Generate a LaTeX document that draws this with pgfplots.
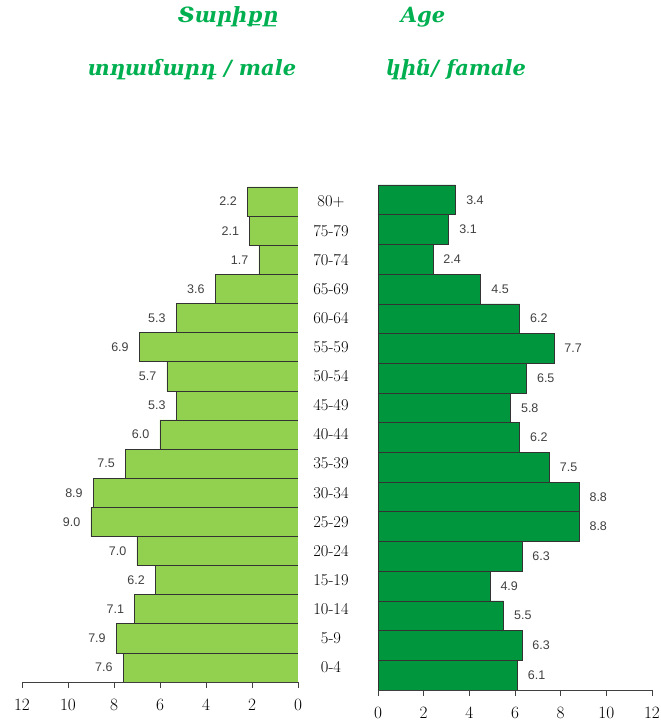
\documentclass[border=0pt]{standalone}
\usepackage{fontspec}
\usepackage{pgfplots}
\pgfplotsset{compat=1.18}
\newfontfamily\armfont{DejaVu Serif}
\newfontfamily\valfont{Liberation Sans}
\definecolor{lgreen}{RGB}{146,208,80}
\definecolor{dgreen}{RGB}{0,150,62}
\definecolor{tgreen}{RGB}{0,176,80}
\definecolor{vgray}{RGB}{64,64,64}
\pgfplotstableread{
y male female
0 7.6 6.1
1 7.9 6.3
2 7.1 5.5
3 6.2 4.9
4 7.0 6.3
5 9.0 8.8
6 8.9 8.8
7 7.5 7.5
8 6.0 6.2
9 5.3 5.8
10 5.7 6.5
11 6.9 7.7
12 5.3 6.2
13 3.6 4.5
14 1.7 2.4
15 2.1 3.1
16 2.2 3.4
}\pop
\pgfplotsset{
  pyr/.style={
    xbar, scale only axis, bar width=1,
    xmin=0, xmax=12, ymin=-0.5, ymax=16.5,
    xtick={0,2,...,12}, tick align=outside, major tick length=6pt,
    axis x line*=bottom,
    x axis line style={-, line width=0.8pt, black!75},
    xtick style={line width=0.8pt, black!75},
    xticklabel style={font=\fontsize{18}{18}\selectfont, yshift=-8pt},
    point meta=x,
    nodes near coords={\pgfmathprintnumber[fixed,fixed zerofill,precision=1,assume math mode=true]{\pgfplotspointmeta}},
    every node near coord/.append style={font=\valfont\fontsize{12.5}{12.5}\selectfont, text=vgray},
  }
}
\begin{document}
\begin{tikzpicture}
\useasboundingbox (0pt,0pt) rectangle (661pt,723pt);
\node[text=tgreen, font=\armfont\bfseries\itshape\fontsize{21}{21}\selectfont] at (228pt,706pt) {Տարիքը};
\node[text=tgreen, font=\armfont\bfseries\itshape\fontsize{21}{21}\selectfont] at (423pt,706pt) {Age};
\node[text=tgreen, font=\armfont\bfseries\itshape\fontsize{21}{21}\selectfont] at (192pt,653pt) {տղամարդ / male};
\node[text=tgreen, font=\armfont\bfseries\itshape\fontsize{21}{21}\selectfont] at (456pt,653pt) {կին/ famale};

\begin{axis}[pyr, at={(22pt,41pt)}, anchor=south west, width=276pt, height=495pt,
  x dir=reverse,
  axis y line*=right, y axis line style={draw=none},
  ytick={0,...,16}, ytick style={draw=none},
  yticklabels={0-4,5-9,10-14,15-19,20-24,25-29,30-34,35-39,40-44,45-49,50-54,55-59,60-64,65-69,70-74,75-79,80+},
  yticklabel style={anchor=center, xshift=27pt, font=\fontsize{16.5}{16.5}\selectfont},
  every node near coord/.append style={anchor=east, xshift=-7pt},
]
\addplot[fill=lgreen, draw=black!80, line width=0.6pt] table[x=male, y=y] {\pop};
\end{axis}

\begin{axis}[pyr, at={(378pt,33pt)}, anchor=south west, width=274pt, height=505pt,
  axis y line=none,
  every node near coord/.append style={anchor=west, xshift=7pt},
]
\addplot[fill=dgreen, draw=black!80, line width=0.6pt] table[x=female, y=y] {\pop};
\end{axis}
\end{tikzpicture}
\end{document}
